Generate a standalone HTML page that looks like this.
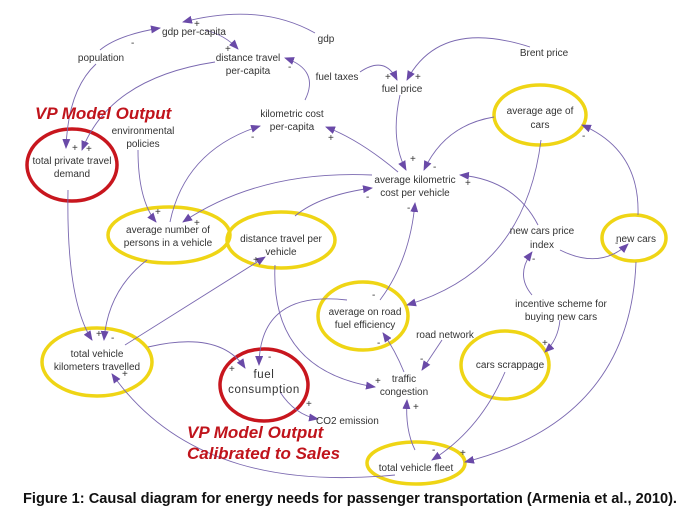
<!DOCTYPE html>
<html><head><meta charset="utf-8"><style>
html,body{margin:0;padding:0;background:#fff;width:692px;height:517px;overflow:hidden}
svg{display:block}
text{font-family:"Liberation Sans",sans-serif;fill:#333;font-size:10px}
.c{text-anchor:middle}
.s{font-size:9px;fill:#222}
.r{fill:#c0141c;font-weight:bold;font-style:italic;font-size:17px}
path.e{fill:none;stroke:#7a68b0;stroke-width:0.9}
</style></head><body>
<svg width="692" height="517" viewBox="0 0 692 517" xmlns="http://www.w3.org/2000/svg">
<defs><marker id="a" markerWidth="10" markerHeight="8" refX="9" refY="4" orient="auto" markerUnits="userSpaceOnUse"><path d="M0,0 L10,4 L0,8 z" fill="#6a4aa8"/></marker></defs>
<g fill="none" stroke="#efd515" stroke-width="3.5">
<ellipse cx="540" cy="115" rx="46" ry="30"/>
<ellipse cx="634" cy="238" rx="32" ry="23"/>
<ellipse cx="169" cy="235" rx="61" ry="28"/>
<ellipse cx="281" cy="240" rx="54" ry="28"/>
<ellipse cx="363" cy="316" rx="45" ry="34"/>
<ellipse cx="97" cy="362" rx="55" ry="34"/>
<ellipse cx="505" cy="365" rx="44" ry="34"/>
<ellipse cx="416" cy="463" rx="49" ry="21"/>
</g>
<g fill="none" stroke="#c8161e" stroke-width="3.5">
<ellipse cx="72" cy="165" rx="45" ry="36"/>
<ellipse cx="264" cy="385" rx="44" ry="36"/>
</g>
<g marker-end="url(#a)">
<path class="e" d="M315,33 Q260,2 183,22"/>
<path class="e" d="M100,50 Q118,35 160,28"/>
<path class="e" d="M205,30 Q225,35 238,49"/>
<path class="e" d="M96,64 Q68,90 66,148"/>
<path class="e" d="M215,62 Q110,78 82,150"/>
<path class="e" d="M305,100 Q320,70 285,58"/>
<path class="e" d="M398,172 Q360,140 326,127"/>
<path class="e" d="M170,222 Q185,150 260,126"/>
<path class="e" d="M400,95 Q390,140 406,170"/>
<path class="e" d="M360,72 Q385,55 397,80"/>
<path class="e" d="M530,47 Q440,18 407,80"/>
<path class="e" d="M494,117 Q445,125 424,170"/>
<path class="e" d="M538,225 Q515,180 460,175"/>
<path class="e" d="M638,215 Q640,150 582,125"/>
<path class="e" d="M560,250 Q600,270 628,244"/>
<path class="e" d="M532,295 Q515,275 532,252"/>
<path class="e" d="M560,320 Q558,340 545,352"/>
<path class="e" d="M636,262 Q630,420 465,462"/>
<path class="e" d="M505,372 Q480,430 432,460"/>
<path class="e" d="M415,450 Q405,430 407,400"/>
<path class="e" d="M442,340 Q432,355 422,370"/>
<path class="e" d="M404,372 Q395,350 383,333"/>
<path class="e" d="M380,300 Q410,260 415,203"/>
<path class="e" d="M541,140 Q525,270 407,305"/>
<path class="e" d="M275,265 Q270,370 375,387"/>
<path class="e" d="M347,300 Q260,290 259,365"/>
<path class="e" d="M148,347 Q220,330 245,368"/>
<path class="e" d="M280,392 Q295,415 318,419"/>
<path class="e" d="M68,190 Q66,300 92,340"/>
<path class="e" d="M147,260 Q108,290 104,340"/>
<path class="e" d="M125,345 L265,257"/>
<path class="e" d="M395,475 C290,485 180,470 112,374"/>
<path class="e" d="M138,150 Q138,200 156,222"/>
<path class="e" d="M372,175 Q260,170 183,222"/>
<path class="e" d="M295,216 Q320,195 372,188"/>
</g>
<g class="s">
<text x="194" y="27">+</text><text x="131" y="46">-</text><text x="225" y="52">+</text><text x="288" y="70">-</text>
<text x="72" y="151">+</text><text x="86" y="152">+</text><text x="251" y="140">-</text><text x="328" y="141">+</text>
<text x="385" y="80">+</text><text x="415" y="80">+</text><text x="410" y="162">+</text><text x="433" y="170">-</text>
<text x="465" y="186">+</text><text x="366" y="200">-</text><text x="407" y="211">-</text><text x="582" y="139">-</text>
<text x="615" y="246">-</text><text x="532" y="262">-</text><text x="542" y="346">+</text><text x="432" y="453">-</text>
<text x="460" y="456">+</text><text x="413" y="410">+</text><text x="420" y="362">-</text><text x="377" y="346">-</text>
<text x="372" y="298">-</text><text x="375" y="384">+</text><text x="268" y="360">-</text><text x="229" y="372">+</text>
<text x="306" y="407">+</text><text x="96" y="337">+</text><text x="111" y="341">-</text><text x="122" y="377">+</text>
<text x="155" y="215">+</text><text x="194" y="226">+</text><text x="253" y="263">+</text>
</g>
<text class="c" x="194" y="35">gdp per-capita</text>
<text class="c" x="101" y="61">population</text>
<text class="c" x="248" y="61">distance travel</text><text class="c" x="248" y="74">per-capita</text>
<text class="c" x="326" y="42">gdp</text>
<text class="c" x="337" y="80">fuel taxes</text>
<text class="c" x="544" y="56">Brent price</text>
<text class="c" x="402" y="92">fuel price</text>
<text class="c" x="292" y="117">kilometric cost</text><text class="c" x="292" y="130">per-capita</text>
<text class="c" x="143" y="134">environmental</text><text class="c" x="143" y="147">policies</text>
<text class="c" x="72" y="164">total private travel</text><text class="c" x="72" y="177">demand</text>
<text class="c" x="415" y="183">average kilometric</text><text class="c" x="415" y="196">cost per vehicle</text>
<text class="c" x="540" y="114">average age of</text><text class="c" x="540" y="128">cars</text>
<text class="c" x="542" y="234">new cars price</text><text class="c" x="542" y="248">index</text>
<text class="c" x="636" y="242">new cars</text>
<text class="c" x="168" y="233">average number of</text><text class="c" x="168" y="246">persons in a vehicle</text>
<text class="c" x="281" y="242">distance travel per</text><text class="c" x="281" y="255">vehicle</text>
<text class="c" x="561" y="307">incentive scheme for</text><text class="c" x="561" y="320">buying new cars</text>
<text class="c" x="365" y="315">average on road</text><text class="c" x="365" y="328">fuel efficiency</text>
<text class="c" x="445" y="338">road network</text>
<text class="c" x="97" y="357">total vehicle</text><text class="c" x="97" y="370">kilometers travelled</text>
<text class="c" x="264" y="378" style="font-size:11.5px;letter-spacing:0.6px">fuel</text><text class="c" x="264" y="393" style="font-size:11.5px;letter-spacing:0.6px">consumption</text>
<text class="c" x="510" y="368">cars scrappage</text>
<text class="c" x="404" y="382">traffic</text><text class="c" x="404" y="395">congestion</text>
<text x="316" y="424">CO2 emission</text>
<text class="c" x="416" y="471">total vehicle fleet</text>
<text class="r" x="35" y="119">VP Model Output</text>
<text class="r" x="187" y="438">VP Model Output</text>
<text class="r" x="187" y="459">Calibrated to Sales</text>
<text x="23" y="503" textLength="654" lengthAdjust="spacingAndGlyphs" style="font-weight:bold;font-size:14.4px;fill:#111">Figure 1: Causal diagram for energy needs for passenger transportation (Armenia et al., 2010).</text>
</svg>
</body></html>
